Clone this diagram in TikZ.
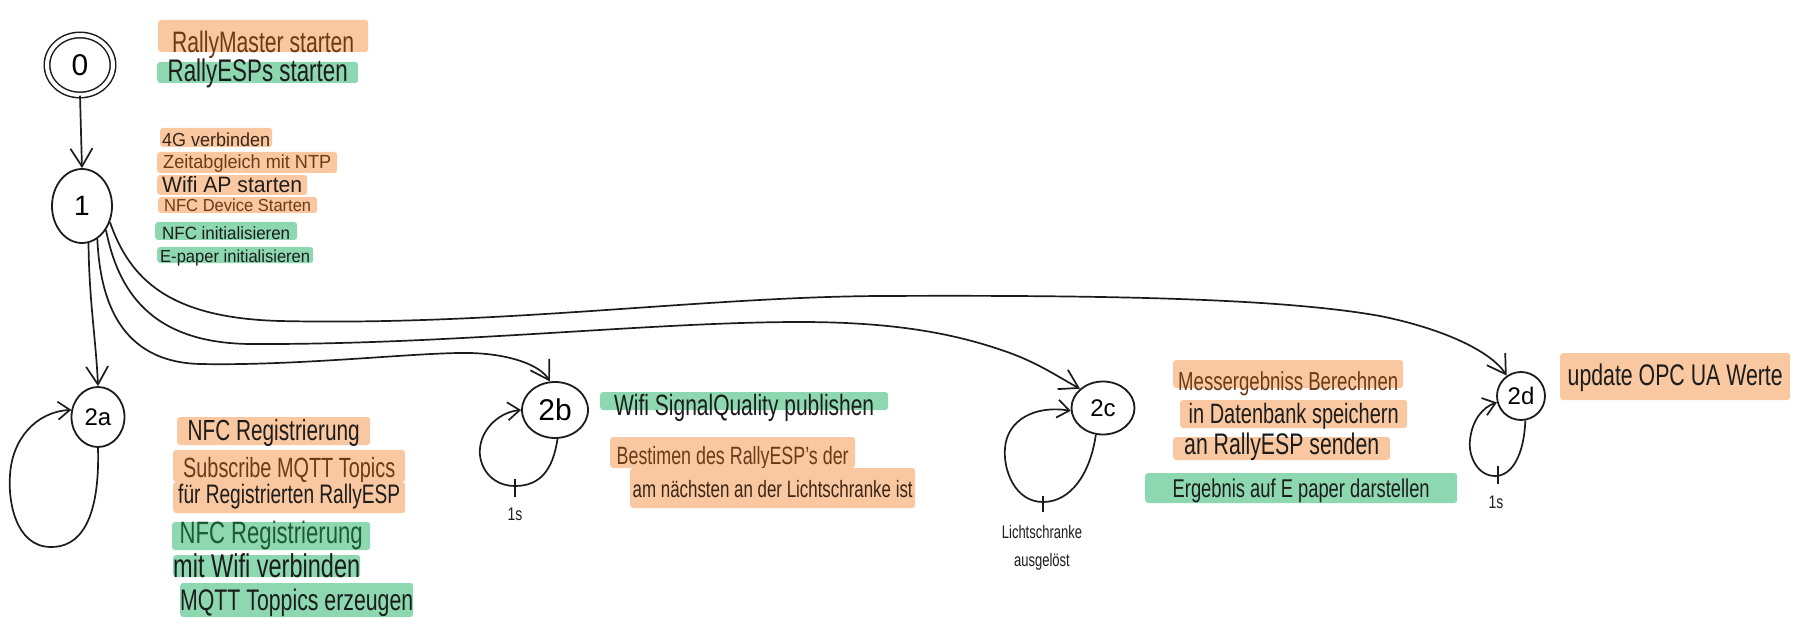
\documentclass[tikz,border=0pt]{standalone}
\usepackage{graphicx}
\usepackage{fontspec}
\setmainfont{Liberation Sans}
\usetikzlibrary{arrows.meta,shapes.geometric}
\definecolor{hlor}{HTML}{F9C8A0}
\definecolor{hlgr}{HTML}{8DD8B0}
\definecolor{inkbr}{HTML}{6B3A17}
\definecolor{inkgr}{HTML}{1F5A32}
\definecolor{inkd}{HTML}{3A2618}
\definecolor{ink}{HTML}{1C1C1C}
\newcommand{\hltext}[3]{\raisebox{#2}{\scalebox{1}[1.4]{\resizebox{#1}{!}{#3}}}}
\newcommand{\hlflat}[3]{\raisebox{#2}{\scalebox{1}[1.05]{\resizebox{#1}{!}{#3}}}}
\begin{document}
\begin{tikzpicture}[x=1pt,y=-1pt,
  state/.style={draw=ink, line width=1.8pt, ellipse, inner sep=0pt},
  conn/.style={draw=ink, line width=1.7pt, -{Straight Barb[length=18pt,width=22pt]}},
  loopconn/.style={draw=ink, line width=1.7pt, -{Straight Barb[length=12pt,width=18pt]}},
  tick/.style={draw=ink, line width=1.7pt},
  bar/.style={rounded corners=3pt, inner xsep=0pt, inner ysep=0pt, anchor=west, text depth=0pt},
  obar/.style={bar, fill=hlor},
  gbar/.style={bar, fill=hlgr},
  small/.style={text=ink, font=\fontsize{14}{16}\selectfont},
]
\fill[white] (0,0) rectangle (1802,639);
\useasboundingbox (0,0) rectangle (1802,639);

% states
\node[state, double=white, double distance=4pt, line width=1.5pt, minimum width=66pt, minimum height=60pt, font=\fontsize{30}{32}\selectfont] (n0) at (80,65) {0};
\node[state, minimum width=60pt, minimum height=74pt, font=\fontsize{28}{30}\selectfont] (n1) at (82,206) {1};
\node[state, minimum width=53pt, minimum height=60pt, font=\fontsize{24}{26}\selectfont] (n2a) at (98,417) {2a};
\node[state, minimum width=66pt, minimum height=56pt, font=\fontsize{30}{32}\selectfont] (n2b) at (555,410) {2b};
\node[state, minimum width=63pt, minimum height=53pt, font=\fontsize{24}{26}\selectfont] (n2c) at (1103,408) {2c};
\node[state, minimum width=48pt, minimum height=48pt, font=\fontsize{24}{26}\selectfont] (n2d) at (1521,396) {2d};

% connectors
\draw[conn] (n0.south) -- (n1.north);
\draw[conn] (n1.-80) .. controls (89,300) and (96,340) .. (n2a.north);
\draw[conn] (n1.-65) .. controls (100,300) and (120,362) .. (200,364)
  .. controls (300,366) and (420,352) .. (470,353)
  .. controls (510,354) and (540,365) .. (n2b.100);
\draw[conn] (n1.-45) .. controls (118,290) and (150,343) .. (250,344)
  .. controls (450,345) and (650,322) .. (800,322)
  .. controls (900,322) and (960,335) .. (1010,353)
  .. controls (1040,364) and (1060,378) .. (n2c.140);
\draw[conn] (n1.-30) .. controls (130,280) and (170,318) .. (280,321)
  .. controls (500,326) and (700,297) .. (880,296)
  .. controls (1100,295) and (1280,298) .. (1380,316)
  .. controls (1440,328) and (1490,350) .. (n2d.125);

% self loops
\draw[loopconn] (n2a.south) .. controls (100,520) and (80,548) .. (50,547)
  .. controls (15,546) and (8,500) .. (10,475)
  .. controls (12,440) and (35,412) .. (n2a.165);
\draw[loopconn] (n2b.-85) .. controls (553,470) and (540,486) .. (515,486)
  .. controls (490,486) and (478,465) .. (480,448)
  .. controls (482,428) and (500,412) .. (n2b.180);
\draw[loopconn] (n2c.-105) .. controls (1090,475) and (1070,502) .. (1043,502)
  .. controls (1015,502) and (1003,470) .. (1005,448)
  .. controls (1007,420) and (1035,405) .. (n2c.185);
\draw[loopconn] (n2d.-80) .. controls (1524,455) and (1512,476) .. (1495,476)
  .. controls (1477,476) and (1468,455) .. (1470,440)
  .. controls (1472,420) and (1483,407) .. (n2d.195);

% ticks and loop labels
\draw[tick] (515,479) -- (515,497);
\draw[tick] (1043,496) -- (1043,512);
\draw[tick] (1498,466) -- (1498,484);
\node[small] (l2b) at (515,514) {\scalebox{1}[1.3]{1s}};
\node[small] (l2d) at (1496,502) {\scalebox{1}[1.3]{1s}};
\node[text=ink, font=\fontsize{13}{28}\selectfont, align=center] (l2c) at (1042,548) {\scalebox{1}[1.4]{Lichtschranke}\\\scalebox{1}[1.4]{ausgelöst}};

% texts state 0 / 1
\node[obar, minimum width=210pt, text height=32pt, text=inkbr] (t1) at (158,36) {\hltext{182pt}{-1pt}{RallyMaster starten}};
\node[gbar, minimum width=201pt, text height=21pt, text=ink] (t2) at (157,72.5) {\hltext{180pt}{1pt}{RallyESPs starten}};
\node[obar, minimum width=112pt, text height=19pt, text=inkd] (t3) at (160,137.5) {\hlflat{108pt}{1pt}{4G verbinden}};
\node[obar, minimum width=180pt, text height=21pt, text=inkbr] (t4) at (157,162.5) {\hlflat{168pt}{4pt}{Zeitabgleich mit NTP}};
\node[obar, minimum width=150pt, text height=20pt, text=ink] (t5) at (157,185) {\hlflat{140pt}{2pt}{Wifi AP starten}};
\node[obar, minimum width=159pt, text height=16pt, text=inkbr] (t6) at (158,205) {\hlflat{147pt}{1pt}{NFC Device Starten}};
\node[gbar, minimum width=142pt, text height=18pt, text=ink] (t7) at (155,231) {\hlflat{128pt}{1pt}{NFC initialisieren}};
\node[gbar, minimum width=156pt, text height=16pt, text=ink] (t8) at (157,255) {\hlflat{150pt}{1pt}{E-paper initialisieren}};

% texts state 2a
\node[obar, minimum width=193pt, text height=28pt, text=ink] (a1) at (177,431) {\hltext{172pt}{5pt}{NFC Registrierung}};
\node[obar, minimum width=232pt, text height=32pt, text=inkbr] (a2a) at (173,466) {\hltext{212pt}{5pt}{Subscribe MQTT Topics}};
\node[obar, minimum width=232pt, text height=31pt, text=ink] (a2b) at (173,497.5) {\hltext{222pt}{10pt}{für Registrierten RallyESP}};
\node[gbar, minimum width=198pt, text height=28pt, text=inkgr] (a3) at (172,536) {\hltext{183pt}{7pt}{NFC Registrierung}};
\node[gbar, minimum width=187pt, text height=22pt, text=ink] (a4) at (173,566) {\hltext{187pt}{0pt}{mit Wifi verbinden}};
\node[gbar, minimum width=233pt, text height=34pt, text=ink] (a5) at (180,600) {\hltext{233pt}{7pt}{MQTT Toppics erzeugen}};

% texts state 2b
\node[gbar, minimum width=288pt, text height=18pt, text=ink] (b1) at (600,401) {\hltext{260pt}{-5pt}{Wifi SignalQuality publishen}};
\node[obar, minimum width=245pt, text height=31pt, text=inkbr] (b2a) at (610,452.5) {\hltext{232pt}{4pt}{Bestimen des RallyESP's der}};
\node[obar, minimum width=285pt, text height=40pt, text=inkd] (b2b) at (630,488) {\hltext{280pt}{11pt}{am nächsten an der Lichtschranke ist}};

% texts state 2c
\node[obar, minimum width=230pt, text height=28pt, text=inkbr] (c1) at (1173,374) {\hltext{220pt}{-2pt}{Messergebniss Berechnen}};
\node[obar, minimum width=227pt, text height=28pt, text=ink] (c2) at (1180,414) {\hltext{210pt}{5pt}{in Datenbank speichern}};
\node[obar, minimum width=217pt, text height=23pt, text=ink] (c3) at (1173,448.5) {\hltext{195pt}{6pt}{an RallyESP senden}};
\node[gbar, minimum width=312pt, text height=30pt, text=ink] (c4) at (1145,488) {\hltext{257pt}{6pt}{Ergebnis auf E paper darstellen}};

% text state 2d
\node[obar, minimum width=230pt, text height=47pt, text=ink] (d1) at (1560,376.5) {\hltext{215pt}{15pt}{update OPC UA Werte}};
\end{tikzpicture}
\end{document}
